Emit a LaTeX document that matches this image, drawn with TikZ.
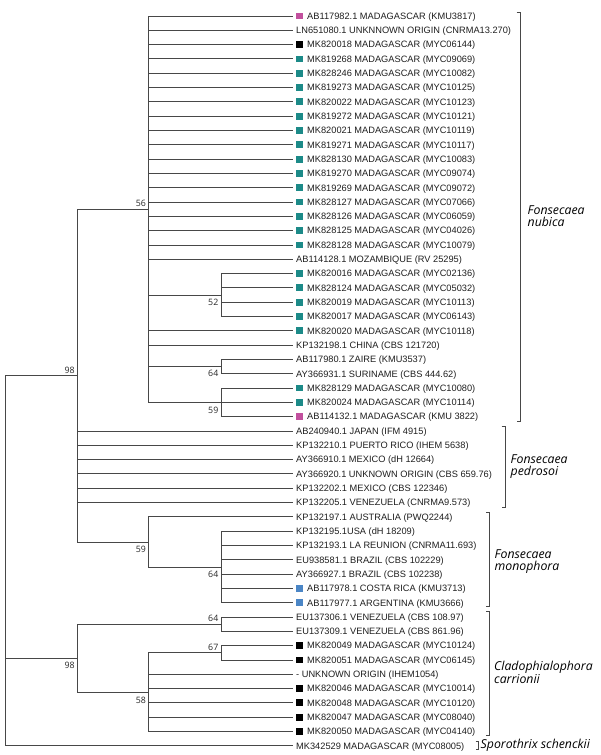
\documentclass[tikz,border=0pt]{standalone}
\usepackage{fontspec}
\setmainfont{Liberation Sans}
\newfontfamily\spfont{Open Sans}
\definecolor{lc}{HTML}{474747}
\definecolor{mag}{HTML}{C2509E}
\definecolor{tl}{HTML}{1C8A88}
\definecolor{bl}{HTML}{4B86C6}
\definecolor{blk}{HTML}{000000}
\tikzset{
  br/.style={draw=lc, line width=0.9pt},
  brk/.style={draw=lc, line width=0.8pt},
  lbl/.style={anchor=base west, inner sep=0pt, font=\fontsize{9.25}{10}\selectfont, text=black!88},
  sqbox/.style={rectangle, inner sep=0pt, minimum size=6.8pt},
  boot/.style={anchor=east, inner sep=0pt, font=\spfont\fontsize{8.8}{10}\selectfont, text=black!85},
  spname/.style={anchor=west, inner sep=0pt, align=left, font=\spfont\itshape\fontsize{12.3}{11.4}\selectfont},
}
\begin{document}
\begin{tikzpicture}[x=1pt,y=-1pt]
\useasboundingbox[fill=white] (0,0) rectangle (600,755);
% leaf end points
\foreach \i in {1,...,52} {
  \pgfmathsetmacro{\yy}{16+(\i-1)*14.31}
  \coordinate (L\i) at (292.5,\yy);
}
% squared leaves
\foreach \i/\col/\txt in {
 1/mag/{AB117982.1 MADAGASCAR (KMU3817)},
 3/blk/{MK820018 MADAGASCAR (MYC06144)},
 4/tl/{MK819268 MADAGASCAR (MYC09069)},
 5/tl/{MK828246 MADAGASCAR (MYC10082)},
 6/tl/{MK819273 MADAGASCAR (MYC10125)},
 7/tl/{MK820022 MADAGASCAR (MYC10123)},
 8/tl/{MK819272 MADAGASCAR (MYC10121)},
 9/tl/{MK820021 MADAGASCAR (MYC10119)},
 10/tl/{MK819271 MADAGASCAR (MYC10117)},
 11/tl/{MK828130 MADAGASCAR (MYC10083)},
 12/tl/{MK819270 MADAGASCAR (MYC09074)},
 13/tl/{MK819269 MADAGASCAR (MYC09072)},
 14/tl/{MK828127 MADAGASCAR (MYC07066)},
 15/tl/{MK828126 MADAGASCAR (MYC06059)},
 16/tl/{MK828125 MADAGASCAR (MYC04026)},
 17/tl/{MK828128 MADAGASCAR (MYC10079)},
 19/tl/{MK820016 MADAGASCAR (MYC02136)},
 20/tl/{MK828124 MADAGASCAR (MYC05032)},
 21/tl/{MK820019 MADAGASCAR (MYC10113)},
 22/tl/{MK820017 MADAGASCAR (MYC06143)},
 23/tl/{MK820020 MADAGASCAR (MYC10118)},
 27/tl/{MK828129 MADAGASCAR (MYC10080)},
 28/tl/{MK820024 MADAGASCAR (MYC10114)},
 29/mag/{AB114132.1 MADAGASCAR (KMU 3822)},
 41/bl/{AB117978.1 COSTA RICA (KMU3713)},
 42/bl/{AB117977.1 ARGENTINA (KMU3666)},
 45/blk/{MK820049 MADAGASCAR (MYC10124)},
 46/blk/{MK820051 MADAGASCAR (MYC06145)},
 48/blk/{MK820046 MADAGASCAR (MYC10014)},
 49/blk/{MK820048 MADAGASCAR (MYC10120)},
 50/blk/{MK820047 MADAGASCAR (MYC08040)},
 51/blk/{MK820050 MADAGASCAR (MYC04140)}} {
  \pgfmathsetmacro{\yy}{16+(\i-1)*14.31}
  \node[sqbox, fill=\col] (S\i) at (299.6,\yy) {};
  \node[lbl] (T\i) at (307,\yy+3.3) {\txt};
}
% plain leaves
\foreach \i/\txt in {
 2/{LN651080.1 UNKNNOWN ORIGIN (CNRMA13.270)},
 18/{AB114128.1 MOZAMBIQUE (RV 25295)},
 24/{KP132198.1 CHINA (CBS 121720)},
 25/{AB117980.1 ZAIRE (KMU3537)},
 26/{AY366931.1 SURINAME (CBS 444.62)},
 30/{AB240940.1 JAPAN (IFM 4915)},
 31/{KP132210.1 PUERTO RICO (IHEM 5638)},
 32/{AY366910.1 MEXICO (dH 12664)},
 33/{AY366920.1 UNKNOWN ORIGIN (CBS 659.76)},
 34/{KP132202.1 MEXICO (CBS 122346)},
 35/{KP132205.1 VENEZUELA (CNRMA9.573)},
 36/{KP132197.1 AUSTRALIA (PWQ2244)},
 37/{KP132195.1USA (dH 18209)},
 38/{KP132193.1 LA REUNION (CNRMA11.693)},
 39/{EU938581.1 BRAZIL (CBS 102229)},
 40/{AY366927.1 BRAZIL (CBS 102238)},
 43/{EU137306.1 VENEZUELA (CBS 108.97)},
 44/{EU137309.1 VENEZUELA (CBS 861.96)},
 47/{- UNKNOWN ORIGIN (IHEM1054)},
 52/{MK342529 MADAGASCAR (MYC08005)}} {
  \pgfmathsetmacro{\yy}{16+(\i-1)*14.31}
  \node[lbl] (T\i) at (296,\yy+3.3) {\txt};
}
% internal nodes
\coordinate (root) at (5.3,560.7);
\coordinate (n98a) at (77.3,375.6);
\coordinate (n56)  at (148.7,209.2);
\coordinate (n52)  at (221,295.0);
\coordinate (n64a) at (221,366.6);
\coordinate (n59a) at (221,402.4);
\coordinate (n59m) at (148.7,542.0);
\coordinate (n64m) at (221,567.0);
\coordinate (n98b) at (77.3,658.3);
\coordinate (n64c) at (221,624.3);
\coordinate (n58)  at (148.7,692.2);
\coordinate (n67)  at (221,652.9);
% branches
\draw[br] (root) |- (n98a);
\draw[br] (root) |- (n98b);
\draw[br] (root) |- (L52);
\draw[br] (n98a) |- (n56);
\draw[br] (n98a) |- (n59m);
\foreach \i in {30,...,35} {\draw[br] (n98a) |- (L\i);}
\foreach \i in {1,...,18,23,24} {\draw[br] (n56) |- (L\i);}
\draw[br] (n56) |- (n52);
\draw[br] (n56) |- (n64a);
\draw[br] (n56) |- (n59a);
\foreach \i in {19,...,22} {\draw[br] (n52) |- (L\i);}
\foreach \i in {25,26} {\draw[br] (n64a) |- (L\i);}
\foreach \i in {27,28,29} {\draw[br] (n59a) |- (L\i);}
\draw[br] (n59m) |- (L36);
\draw[br] (n59m) |- (n64m);
\foreach \i in {37,...,42} {\draw[br] (n64m) |- (L\i);}
\draw[br] (n98b) |- (n64c);
\draw[br] (n98b) |- (n58);
\foreach \i in {43,44} {\draw[br] (n64c) |- (L\i);}
\draw[br] (n58) |- (n67);
\foreach \i in {47,...,51} {\draw[br] (n58) |- (L\i);}
\foreach \i in {45,46} {\draw[br] (n67) |- (L\i);}
% bootstrap values
\node[boot] (b56)  at (146.2,203.3) {56};
\node[boot] (b98a) at (74.8,370.0) {98};
\node[boot] (b52)  at (218.5,302.7) {52};
\node[boot] (b64a) at (218.5,373.7) {64};
\node[boot] (b59a) at (218.5,410.0) {59};
\node[boot] (b59m) at (146.2,549.3) {59};
\node[boot] (b64m) at (218.5,574.5) {64};
\node[boot] (b64c) at (218.5,618.3) {64};
\node[boot] (b67)  at (218.5,647.0) {67};
\node[boot] (b98b) at (74.8,665.7) {98};
\node[boot] (b58)  at (146.2,700.0) {58};
% clade brackets
\draw[brk] (516.7,12.5) -- (520,12.5) -- (520,421.5) -- (516.7,421.5);
\draw[brk] (501.7,426.7) -- (505,426.7) -- (505,507.3) -- (501.7,507.3);
\draw[brk] (486,512.7) -- (489.3,512.7) -- (489.3,606) -- (486,606);
\draw[brk] (486,611.7) -- (489.3,611.7) -- (489.3,735.7) -- (486,735.7);
\draw[brk] (475.5,741.5) -- (478.5,741.5) -- (478.5,749.5) -- (475.5,749.5);
\node[spname] (nub) at (527.5,216.2) {Fonsecaea\\nubica};
\node[spname] (ped) at (510.5,466.5) {Fonsecaea\\pedrosoi};
\node[spname] (mon) at (494.5,561.5) {Fonsecaea\\monophora};
\node[spname] (car) at (494,672.5) {Cladophialophora\\carrionii};
\node[spname] (spo) at (480.5,745.7) {Sporothrix schenckii};
\end{tikzpicture}
\end{document}
